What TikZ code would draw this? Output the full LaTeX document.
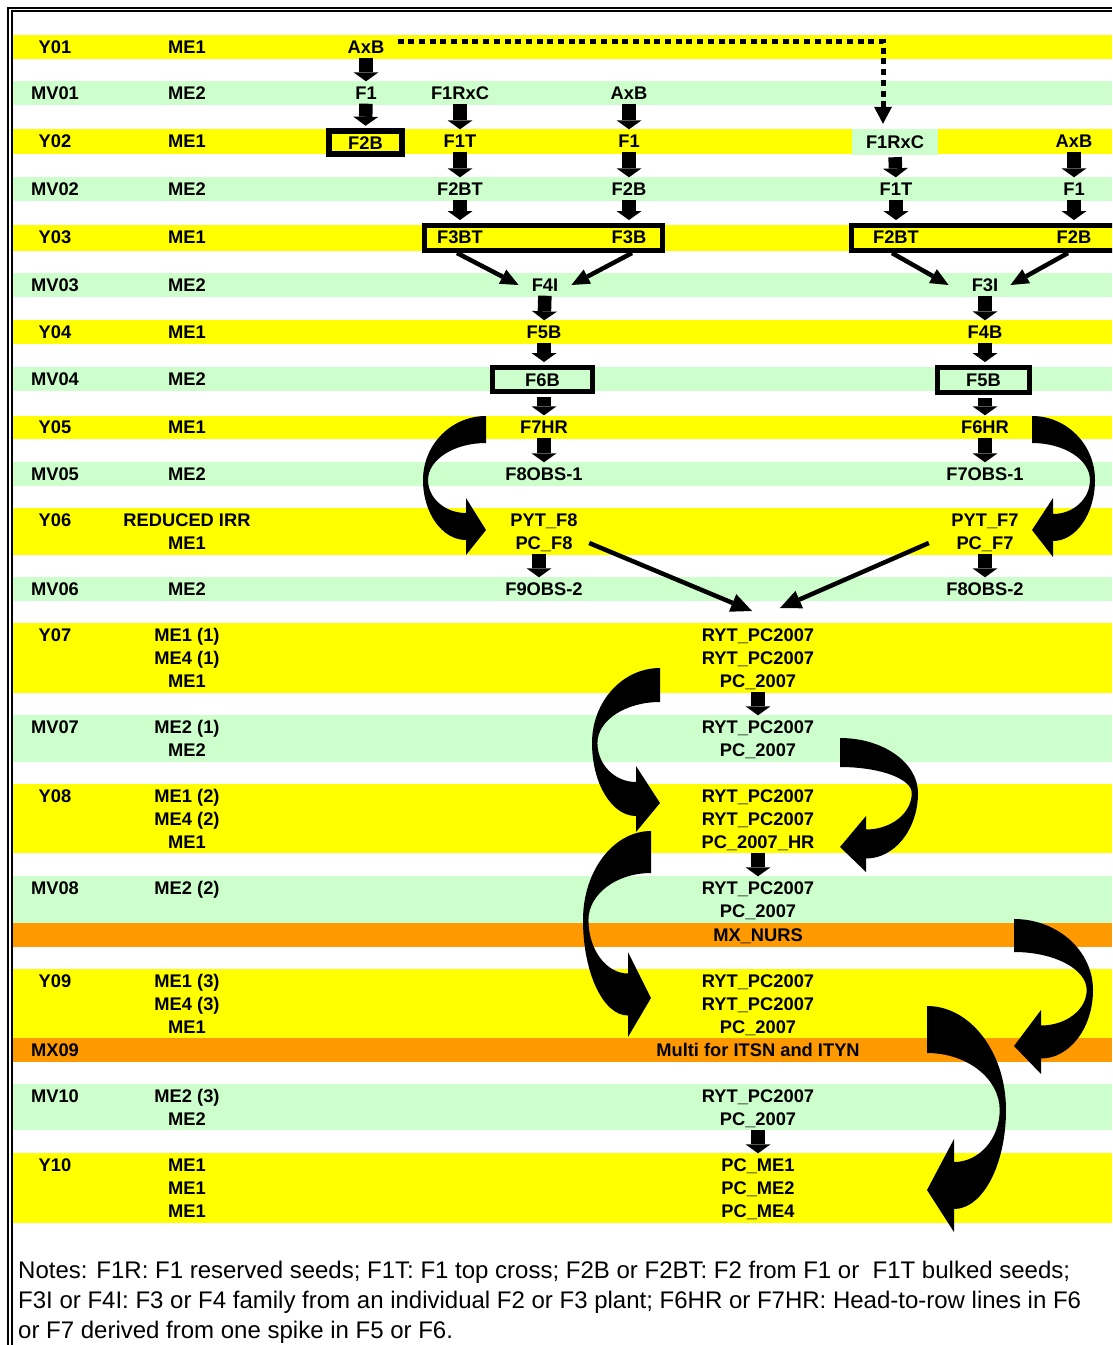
\documentclass[tikz,border=0pt]{standalone}
\usepackage{fontspec}
\setmainfont{Liberation Sans}
\usetikzlibrary{arrows.meta}
\definecolor{bandY}{RGB}{255,255,0}
\definecolor{bandG}{RGB}{204,255,204}
\definecolor{bandO}{RGB}{255,153,0}
% curved block arrow: T a b E m H h1 h2 ytip
\newcommand{\curvarrow}[9]{%
 \pgfmathsetmacro{\caIn}{((#8-#7)-(#3-#2))/2}%
 \pgfmathsetmacro{\caNa}{#7+\caIn}%
 \pgfmathsetmacro{\caNb}{#8-\caIn}%
 \pgfmathsetmacro{\caEi}{#4+0.08*(#1-#4)}%
 \fill (#1,#2) .. controls ({#1-0.552*(#1-#4)},#2) and (#4,{#5-0.552*(#5-#2)}) .. (#4,#5)
  .. controls (#4,{#5+0.552*(\caNb-#5)}) and ({#6-0.552*(#6-#4)},\caNb) .. (#6,\caNb)
  -- (#6,#8) -- (#1,#9) -- (#6,#7) -- (#6,\caNa)
  .. controls ({#6-0.552*(#6-\caEi)},\caNa) and (\caEi,{#5+0.552*(\caNa-#5)}) .. (\caEi,#5)
  .. controls (\caEi,{#5-0.552*(#5-#3)}) and ({#1-0.552*(#1-\caEi)},#3) .. (#1,#3) -- cycle;%
}
\begin{document}
\begin{tikzpicture}[x=1pt,y=-1pt,
  lbl/.style={inner sep=0pt, font=\fontsize{18.3}{22}\selectfont\bfseries, text height=13pt, text depth=0pt},
  blk/.style={line width=13.5pt, -{Triangle[width=25pt,length=9pt,line width=0pt]}, shorten <=4pt, shorten >=5pt},
  diag/.style={line width=4.5pt, -{Triangle[width=16pt,length=18pt,line width=0pt]}},
  diagb/.style={line width=4.5pt, -{Triangle[width=19pt,length=21pt,line width=0pt]}},
  boxed/.style={draw, line width=5.5pt},
  grpbox/.style={draw, line width=5.5pt, inner sep=0pt},
  note/.style={anchor=base west, inner sep=0pt, font=\fontsize{24}{30}\selectfont}
]
\clip (0,0) rectangle (1112,1345);
\fill[white] (0,0) rectangle (1112,1345);
% bands
\foreach \c/\t/\b in {bandY/35/59, bandG/81/105, bandY/129/154, bandG/177/201, bandY/225/251, bandG/273/297, bandY/320/344, bandG/367/391, bandY/416/439, bandG/462/486, bandY/508/555, bandG/577/601, bandY/623/693, bandG/715/762, bandY/784/853, bandG/876/923, bandO/923/947, bandY/969/1038, bandO/1038/1062, bandG/1084/1130, bandY/1153/1223}
  \fill[\c] (13,\t) rectangle (1112,\b);
% frame
\draw[line width=2pt] (8,1345) -- (8,8) -- (1112,8);
\draw[line width=1.6pt] (11.7,1345) -- (11.7,11) -- (1112,11);
% left columns
\foreach \lab/\yy [count=\i] in {Y01/47, MV01/93, Y02/141, MV02/189, Y03/237, MV03/285, Y04/332, MV04/379, Y05/427, MV05/474, Y06/520, MV06/589, Y07/635, MV07/727, Y08/796, MV08/888, Y09/981, MX09/1050, MV10/1096, Y10/1165}
  \node[lbl] (ca\i) at (55,\yy) {\lab};
\foreach \lab/\yy [count=\i] in {ME1/47, ME2/93, ME1/141, ME2/189, ME1/237, ME2/285, ME1/332, ME2/379, ME1/427, ME2/474, {REDUCED IRR}/520, ME1/543, ME2/589, {ME1 (1)}/635, {ME4 (1)}/658, ME1/681, {ME2 (1)}/727, ME2/750, {ME1 (2)}/796, {ME4 (2)}/819, ME1/842, {ME2 (2)}/888, {ME1 (3)}/981, {ME4 (3)}/1004, ME1/1027, {ME2 (3)}/1096, ME2/1119, ME1/1165, ME1/1188, ME1/1211}
  \node[lbl] (cb\i) at (187,\yy) {\lab};
% tree nodes
\node[lbl] (axb1) at (366,47) {AxB};
\node[lbl] (f1a) at (366,93) {F1};
\node[lbl] (f1rxc) at (460,93) {F1RxC};
\node[lbl] (axb2) at (629,93) {AxB};
\node[lbl, boxed, minimum width=73pt, minimum height=23pt] (f2b) at (365.5,142.5) {F2B};
\node[lbl] (f1t) at (460,141) {F1T};
\node[lbl] (f1b) at (629,141) {F1};
\node[lbl, fill=bandG, minimum width=86pt, minimum height=26pt] (f1rxcR) at (895,142) {F1RxC};
\node[lbl] (axbR) at (1074,141) {AxB};
\node[lbl] (f2bt) at (460,189) {F2BT};
\node[lbl] (f2bb) at (629,189) {F2B};
\node[lbl] (f1tR) at (896,189) {F1T};
\node[lbl] (f1R) at (1074,189) {F1};
\node[grpbox, minimum width=238pt, minimum height=25pt] (grpL) at (543.5,238) {};
\node[grpbox, minimum width=277pt, minimum height=25pt] (grpR) at (990,238) {};
\node[lbl] (f3bt) at (460,237) {F3BT};
\node[lbl] (f3b) at (629,237) {F3B};
\node[lbl] (f2btR) at (896,237) {F2BT};
\node[lbl] (f2bR) at (1074,237) {F2B};
\node[lbl] (f4i) at (545,285) {F4I};
\node[lbl] (f3i) at (985,285) {F3I};
\node[lbl] (f5b) at (544,332) {F5B};
\node[lbl] (f4b) at (985,332) {F4B};
\node[lbl, boxed, minimum width=100pt, minimum height=24pt] (f6b) at (542.5,379.5) {F6B};
\node[lbl, boxed, minimum width=92pt, minimum height=25pt] (f5bR) at (983.5,380) {F5B};
\node[lbl] (f7hr) at (544,427) {F7HR};
\node[lbl] (f6hr) at (985,427) {F6HR};
\node[lbl] (f8obs1) at (544,474) {F8OBS-1};
\node[lbl] (f7obs1) at (985,474) {F7OBS-1};
\node[lbl] (pytf8) at (544,520) {PYT\_F8};
\node[lbl] (pcf8) at (544,543) {PC\_F8};
\node[lbl] (pytf7) at (985,520) {PYT\_F7};
\node[lbl] (pcf7) at (985,543) {PC\_F7};
\node[lbl] (f9obs2) at (544,589) {F9OBS-2};
\node[lbl] (f8obs2) at (985,589) {F8OBS-2};
\node[lbl] (r7a) at (758,635) {RYT\_PC2007};
\node[lbl] (r7b) at (758,658) {RYT\_PC2007};
\node[lbl] (r7c) at (758,681) {PC\_2007};
\node[lbl] (r7d) at (758,727) {RYT\_PC2007};
\node[lbl] (r7e) at (758,750) {PC\_2007};
\node[lbl] (r8a) at (758,796) {RYT\_PC2007};
\node[lbl] (r8b) at (758,819) {RYT\_PC2007};
\node[lbl] (r8c) at (758,842) {PC\_2007\_HR};
\node[lbl] (r8d) at (758,888) {RYT\_PC2007};
\node[lbl] (r8e) at (758,911) {PC\_2007};
\node[lbl] (mxn) at (758,935) {MX\_NURS};
\node[lbl] (r9a) at (758,981) {RYT\_PC2007};
\node[lbl] (r9b) at (758,1004) {RYT\_PC2007};
\node[lbl] (r9c) at (758,1027) {PC\_2007};
\node[lbl] (mx9) at (758,1050) {Multi for ITSN and ITYN};
\node[lbl] (r10a) at (758,1096) {RYT\_PC2007};
\node[lbl] (r10b) at (758,1119) {PC\_2007};
\node[lbl] (pme1) at (758,1165) {PC\_ME1};
\node[lbl] (pme2) at (758,1188) {PC\_ME2};
\node[lbl] (pme4) at (758,1211) {PC\_ME4};
% straight block arrows
\draw[blk] (axb1.south) -- (f1a.north);
\draw[blk, shorten >=2.5pt] (f1a.south) -- (f2b.north);
\draw[blk] (f1rxc.south) -- (f1t.north);
\draw[blk] (axb2.south) -- (f1b.north);
\draw[blk] (f1t.south) -- (f2bt.north);
\draw[blk] (f1b.south) -- (f2bb.north);
\draw[blk, shorten <=2pt] (f1rxcR.south) -- (f1tR.north);
\draw[blk] (axbR.south) -- (f1R.north);
\draw[blk, shorten >=2.7pt] (f2bt.south) -- (f2bt.south |- grpL.north);
\draw[blk, shorten >=2.7pt] (f2bb.south) -- (f2bb.south |- grpL.north);
\draw[blk, shorten >=2.7pt] (f1tR.south) -- (f1tR.south |- grpR.north);
\draw[blk, shorten >=2.7pt] (f1R.south) -- (f1R.south |- grpR.north);
\draw[blk] (f4i.south) -- (f5b.north);
\draw[blk] (f3i.south) -- (f4b.north);
\draw[blk, shorten >=2.7pt] (f5b.south) -- (f5b.south |- f6b.north);
\draw[blk, shorten >=2.7pt] (f4b.south) -- (f4b.south |- f5bR.north);
\draw[blk, shorten <=3pt] (f6b.south -| f7hr) -- (f7hr.north);
\draw[blk, shorten <=3pt] (f5bR.south -| f6hr) -- (f6hr.north);
\draw[blk] (f7hr.south) -- (f8obs1.north);
\draw[blk] (f6hr.south) -- (f7obs1.north);
\draw[blk] ([xshift=-5pt]pcf8.south) -- ([xshift=-5pt]f9obs2.north);
\draw[blk] (pcf7.south) -- (f8obs2.north);
\draw[blk] (r7c.south) -- (r7d.north);
\draw[blk] (r8c.south) -- (r8d.north);
\draw[blk] (r10b.south) -- (pme1.north);
% diagonal arrows
\coordinate (d1s) at (457,253);
\coordinate (d2s) at (632,253);
\coordinate (d3s) at (892,253);
\coordinate (d4s) at (1068,253);
\coordinate (d5e) at (752,611);
\coordinate (d6e) at (780,608);
\draw[diag] (d1s) -- ([xshift=-13pt]f4i.west);
\draw[diag] (d2s) -- ([xshift=13pt]f4i.east);
\draw[diag] (d3s) -- ([xshift=-23pt]f3i.west);
\draw[diag] (d4s) -- ([xshift=12pt]f3i.east);
\draw[diagb] ([xshift=16.5pt]pcf8.east) -- (d5e);
\draw[diagb] ([xshift=-27.5pt]pcf7.west) -- (d6e);
% dotted arrow
\coordinate (dcorner) at (883,41);
\draw[line width=5pt, dash pattern=on 6pt off 4.7pt, -{Triangle[width=18pt,length=17pt,line width=0pt]}, shorten >=5pt]
  ([xshift=13pt,yshift=6pt]axb1.east) -- (dcorner) -- (dcorner |- f1rxcR.north);
% curved block arrows
\curvarrow{486}{416}{443}{423}{480}{466}{498}{555}{530}
\curvarrow{1032}{416}{443}{1095}{480}{1053}{498}{557}{530}
\curvarrow{660}{668}{702}{592}{743}{636}{766}{832}{803}
\curvarrow{840}{738}{767}{918}{793}{866}{816}{872}{847}
\curvarrow{651}{831}{873}{583}{920}{628}{952}{1037}{998}
\curvarrow{1014}{919}{952}{1093}{990}{1041}{1010}{1074}{1046}
\curvarrow{927}{1006}{1053}{1006}{1110}{954}{1139}{1232}{1190}
% notes
\node[note] (n1) at (18,1278.6) {Notes: F1R: F1 reserved seeds; F1T: F1 top cross; F2B or F2BT: F2 from F1 or\ \ F1T bulked seeds;};
\node[note] (n2) at (18,1308.6) {F3I or F4I: F3 or F4 family from an individual F2 or F3 plant; F6HR or F7HR: Head-to-row lines in F6};
\node[note] (n3) at (18,1338.6) {or F7 derived from one spike in F5 or F6.};
\end{tikzpicture}
\end{document}
